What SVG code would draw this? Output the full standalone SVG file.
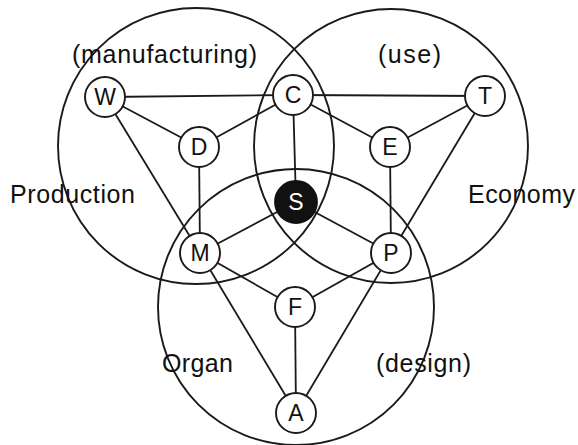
<svg xmlns="http://www.w3.org/2000/svg" width="578" height="445" viewBox="0 0 578 445">
<style>
.big{fill:none;stroke:#1a1a1a;stroke-width:1.9}
.ln{stroke:#1a1a1a;stroke-width:1.8;fill:none}
.nd{fill:#fff;stroke:#1a1a1a;stroke-width:1.9}
.nt{font-family:"Liberation Sans",Arial,sans-serif;font-size:23px;text-anchor:middle;fill:#111}
.lb{font-family:"Liberation Sans",Arial,sans-serif;font-size:25px;fill:#111}
</style>
<rect width="578" height="445" fill="#fff"/>
<g id="regions">
<circle class="big" cx="196" cy="146" r="138"/>
<circle class="big" cx="391" cy="146" r="137"/>
<circle class="big" cx="296" cy="307" r="138"/>
</g>
<g id="connectors">
<line class="ln" x1="105" y1="97" x2="293" y2="95"/>
<line class="ln" x1="293" y1="95" x2="485" y2="96"/>
<line class="ln" x1="105" y1="97" x2="199" y2="147"/>
<line class="ln" x1="199" y1="147" x2="293" y2="95"/>
<line class="ln" x1="293" y1="95" x2="390" y2="147"/>
<line class="ln" x1="390" y1="147" x2="485" y2="96"/>
<line class="ln" x1="105" y1="97" x2="200" y2="253"/>
<line class="ln" x1="199" y1="147" x2="200" y2="253"/>
<line class="ln" x1="293" y1="95" x2="296" y2="202"/>
<line class="ln" x1="390" y1="147" x2="391" y2="253"/>
<line class="ln" x1="485" y1="96" x2="391" y2="253"/>
<line class="ln" x1="296" y1="202" x2="200" y2="253"/>
<line class="ln" x1="296" y1="202" x2="391" y2="253"/>
<line class="ln" x1="200" y1="253" x2="295" y2="307"/>
<line class="ln" x1="295" y1="307" x2="391" y2="253"/>
<line class="ln" x1="200" y1="253" x2="296" y2="413"/>
<line class="ln" x1="295" y1="307" x2="296" y2="413"/>
<line class="ln" x1="391" y1="253" x2="296" y2="413"/>
</g>
<g id="node-W"><circle class="nd" cx="105" cy="97" r="20"/><text class="nt" x="105" y="105">W</text></g>
<g id="node-C"><circle class="nd" cx="293" cy="95" r="20"/><text class="nt" x="293" y="103">C</text></g>
<g id="node-T"><circle class="nd" cx="485" cy="96" r="20"/><text class="nt" x="485" y="104">T</text></g>
<g id="node-D"><circle class="nd" cx="199" cy="147" r="20"/><text class="nt" x="199" y="155">D</text></g>
<g id="node-E"><circle class="nd" cx="390" cy="147" r="20"/><text class="nt" x="390" y="155">E</text></g>
<g id="node-S"><circle cx="296" cy="202" r="21" fill="#111" stroke="#111" stroke-width="1.8"/><text class="nt" x="296" y="210" style="fill:#fff">S</text></g>
<g id="node-M"><circle class="nd" cx="200" cy="253" r="20"/><text class="nt" x="200" y="261">M</text></g>
<g id="node-P"><circle class="nd" cx="391" cy="253" r="20"/><text class="nt" x="391" y="261">P</text></g>
<g id="node-F"><circle class="nd" cx="295" cy="307" r="20"/><text class="nt" x="295" y="315">F</text></g>
<g id="node-A"><circle class="nd" cx="296" cy="413" r="20"/><text class="nt" x="296" y="421">A</text></g>
<g id="labels">
<text class="lb" x="72" y="63" textLength="185" lengthAdjust="spacing">(manufacturing)</text>
<text class="lb" x="378" y="63" textLength="63" lengthAdjust="spacing">(use)</text>
<text class="lb" x="10" y="203" textLength="125" lengthAdjust="spacing">Production</text>
<text class="lb" x="468" y="203" textLength="107" lengthAdjust="spacing">Economy</text>
<text class="lb" x="162" y="372" textLength="71" lengthAdjust="spacing">Organ</text>
<text class="lb" x="376" y="372" textLength="95" lengthAdjust="spacing">(design)</text>
</g>
</svg>
